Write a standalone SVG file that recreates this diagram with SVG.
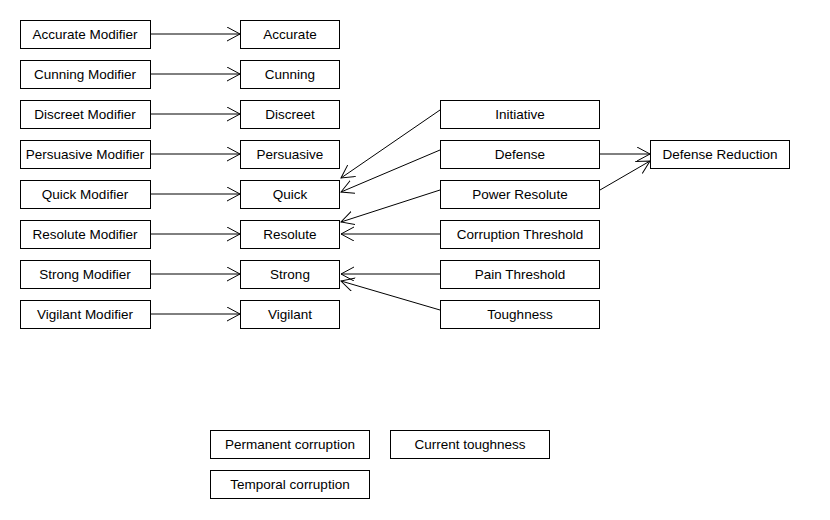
<svg xmlns="http://www.w3.org/2000/svg" width="830" height="520" viewBox="0 0 830 520">
<style>
.n rect{fill:#fff;stroke:#000;stroke-width:1}
.n text{font-family:"Liberation Sans",Arial,sans-serif;font-size:13.5px;fill:#000;text-anchor:middle}
#edges line{stroke:#000;stroke-width:1;marker-end:url(#arr)}
</style>
<defs>
<marker id="arr" markerUnits="userSpaceOnUse" markerWidth="16" markerHeight="16" refX="13" refY="7" orient="auto" viewBox="0 0 16 16">
<path d="M0,0 L13,7 L0,14" fill="none" stroke="#000" stroke-width="1"/>
</marker>
</defs>
<rect width="830" height="520" fill="#fff"/>
<g id="edges">
<line x1="150" y1="34" x2="240" y2="34"/>
<line x1="150" y1="74" x2="240" y2="74"/>
<line x1="150" y1="114" x2="240" y2="114"/>
<line x1="150" y1="154" x2="240" y2="154"/>
<line x1="150" y1="194" x2="240" y2="194"/>
<line x1="150" y1="234" x2="240" y2="234"/>
<line x1="150" y1="274" x2="240" y2="274"/>
<line x1="150" y1="314" x2="240" y2="314"/>
<line x1="440" y1="110" x2="341" y2="178"/>
<line x1="440" y1="150" x2="341" y2="192"/>
<line x1="440" y1="190" x2="341" y2="222"/>
<line x1="440" y1="234" x2="341" y2="234"/>
<line x1="440" y1="274" x2="341" y2="274"/>
<line x1="440" y1="310" x2="341" y2="281"/>
<line x1="600" y1="154" x2="650" y2="154"/>
<line x1="600" y1="190" x2="650" y2="161"/>
</g>
<g id="accurate-modifier" class="n"><rect x="20.5" y="20.5" width="130" height="28"/><text x="85" y="39">Accurate Modifier</text></g>
<g id="cunning-modifier" class="n"><rect x="20.5" y="60.5" width="130" height="28"/><text x="85" y="79">Cunning Modifier</text></g>
<g id="discreet-modifier" class="n"><rect x="20.5" y="100.5" width="130" height="28"/><text x="85" y="119">Discreet Modifier</text></g>
<g id="persuasive-modifier" class="n"><rect x="20.5" y="140.5" width="130" height="28"/><text x="85" y="159">Persuasive Modifier</text></g>
<g id="quick-modifier" class="n"><rect x="20.5" y="180.5" width="130" height="28"/><text x="85" y="199">Quick Modifier</text></g>
<g id="resolute-modifier" class="n"><rect x="20.5" y="220.5" width="130" height="28"/><text x="85" y="239">Resolute Modifier</text></g>
<g id="strong-modifier" class="n"><rect x="20.5" y="260.5" width="130" height="28"/><text x="85" y="279">Strong Modifier</text></g>
<g id="vigilant-modifier" class="n"><rect x="20.5" y="300.5" width="130" height="28"/><text x="85" y="319">Vigilant Modifier</text></g>
<g id="accurate" class="n"><rect x="240.5" y="20.5" width="99" height="28"/><text x="290" y="39">Accurate</text></g>
<g id="cunning" class="n"><rect x="240.5" y="60.5" width="99" height="28"/><text x="290" y="79">Cunning</text></g>
<g id="discreet" class="n"><rect x="240.5" y="100.5" width="99" height="28"/><text x="290" y="119">Discreet</text></g>
<g id="persuasive" class="n"><rect x="240.5" y="140.5" width="99" height="28"/><text x="290" y="159">Persuasive</text></g>
<g id="quick" class="n"><rect x="240.5" y="180.5" width="99" height="28"/><text x="290" y="199">Quick</text></g>
<g id="resolute" class="n"><rect x="240.5" y="220.5" width="99" height="28"/><text x="290" y="239">Resolute</text></g>
<g id="strong" class="n"><rect x="240.5" y="260.5" width="99" height="28"/><text x="290" y="279">Strong</text></g>
<g id="vigilant" class="n"><rect x="240.5" y="300.5" width="99" height="28"/><text x="290" y="319">Vigilant</text></g>
<g id="initiative" class="n"><rect x="440.5" y="100.5" width="159" height="28"/><text x="520" y="119">Initiative</text></g>
<g id="defense" class="n"><rect x="440.5" y="140.5" width="159" height="28"/><text x="520" y="159">Defense</text></g>
<g id="power-resolute" class="n"><rect x="440.5" y="180.5" width="159" height="28"/><text x="520" y="199">Power Resolute</text></g>
<g id="corruption-threshold" class="n"><rect x="440.5" y="220.5" width="159" height="28"/><text x="520" y="239">Corruption Threshold</text></g>
<g id="pain-threshold" class="n"><rect x="440.5" y="260.5" width="159" height="28"/><text x="520" y="279">Pain Threshold</text></g>
<g id="toughness" class="n"><rect x="440.5" y="300.5" width="159" height="28"/><text x="520" y="319">Toughness</text></g>
<g id="defense-reduction" class="n"><rect x="650.5" y="140.5" width="139" height="28"/><text x="720" y="159">Defense Reduction</text></g>
<g id="permanent-corruption" class="n"><rect x="210.5" y="430.5" width="159" height="28"/><text x="290" y="449">Permanent corruption</text></g>
<g id="current-toughness" class="n"><rect x="390.5" y="430.5" width="159" height="28"/><text x="470" y="449">Current toughness</text></g>
<g id="temporal-corruption" class="n"><rect x="210.5" y="470.5" width="159" height="28"/><text x="290" y="489">Temporal corruption</text></g>
</svg>
